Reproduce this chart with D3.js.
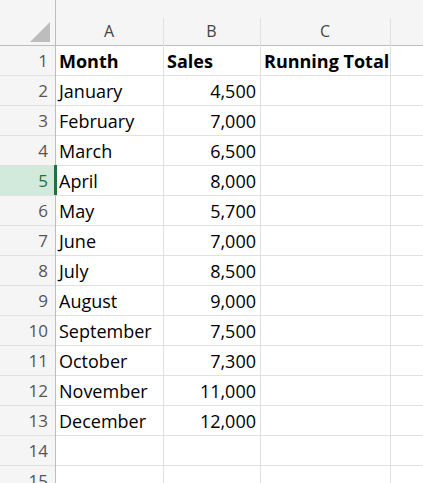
<!DOCTYPE html>
<html><head><meta charset="utf-8">
<script src="https://cdn.jsdelivr.net/npm/d3@7"></script>
<style>body{margin:0;background:#fff}</style>
</head><body>
<script>
var headers = ["Month", "Sales", "Running Total"];
var months = ["January","February","March","April","May","June","July","August","September","October","November","December"];
var sales = [4500,7000,6500,8000,5700,7000,8500,9000,7500,7300,11000,12000];
var colLetters = ["A","B","C",""];

var W = 423, H = 483;
var colX = [55, 163, 260, 390, 480];
var headH = 45, rowH = 30, nRows = 15;
var font = "'Open Sans', 'Noto Sans', sans-serif";
var svg = d3.select("body").append("svg").attr("width", W).attr("height", H);

var y = d3.scaleLinear().domain([0, 1]).range([headH, headH + rowH]);

// header backgrounds
svg.append("rect").attr("x",0).attr("y",0).attr("width",W).attr("height",headH).attr("fill","#f5f5f5");
svg.append("rect").attr("x",0).attr("y",0).attr("width",55).attr("height",H).attr("fill","#f5f5f5");
svg.append("rect").attr("x",0).attr("y",y(4)).attr("width",55).attr("height",rowH).attr("fill","#d2eadc");
svg.append("path").attr("d","M50,42 L50,22 L30,42 Z").attr("fill","#bdbdbd");

// grid lines
for (var r = 0; r <= nRows; r++) {
  svg.append("line").attr("x1",0).attr("x2",W).attr("y1",y(r)+0.5).attr("y2",y(r)+0.5)
    .attr("stroke", r===0 ? "#bdbdbd" : "#e1e1e1");
}
colX.forEach(function(x, i){
  svg.append("line").attr("x1",x+0.5).attr("x2",x+0.5).attr("y1", i===0?0:18).attr("y2",H)
    .attr("stroke", i===0 ? "#bdbdbd" : "#e1e1e1");
});
svg.append("line").attr("x1",55.5).attr("x2",55.5).attr("y1",y(4)).attr("y2",y(5)).attr("stroke","#1e7145").attr("stroke-width",3);

// column letters
colLetters.forEach(function(c, i){
  svg.append("text").attr("x",(colX[i]+colX[i+1])/2).attr("y",37).attr("text-anchor","middle")
    .attr("font-family",font).attr("font-size",16).attr("fill","#444").text(c);
});
// row numbers
d3.range(1, nRows+1).forEach(function(n){
  svg.append("text").attr("x",48).attr("y",y(n-1)+22).attr("text-anchor","end")
    .attr("font-family",font).attr("font-size",17).attr("fill", n===5 ? "#1e7145" : "#555").text(n);
});
// headers
headers.forEach(function(h, i){
  svg.append("text").attr("x",colX[i]+4).attr("y",y(0)+23).attr("font-family",font)
    .attr("font-weight","bold").attr("font-size",18).attr("fill","#000").text(h);
});
var fmt = d3.format(",");
months.forEach(function(m, i){
  svg.append("text").attr("x",colX[0]+4).attr("y",y(i+1)+23).attr("font-family",font)
    .attr("font-size",18).attr("fill","#000").text(m);
  svg.append("text").attr("x",colX[2]-4).attr("y",y(i+1)+23).attr("text-anchor","end").attr("font-family",font)
    .attr("font-size",18).attr("fill","#000").text(fmt(sales[i]));
});
</script>
</body></html>
